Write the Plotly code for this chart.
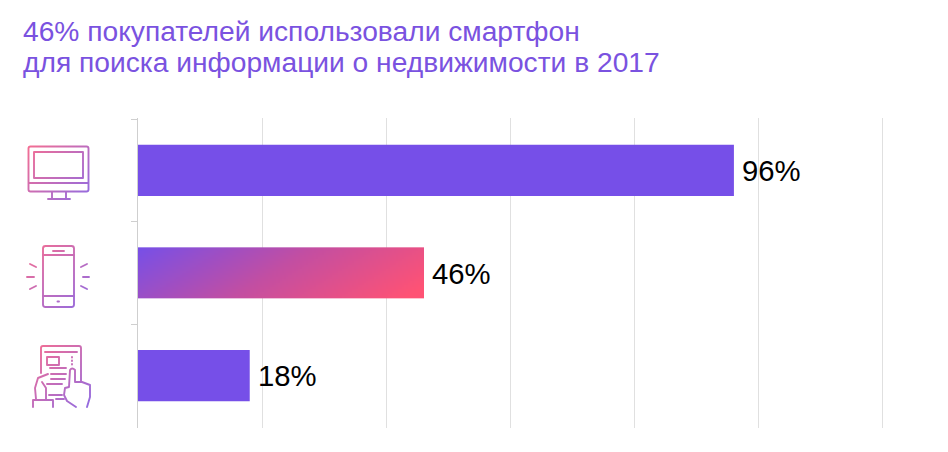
import base64
import numpy as np
import plotly.graph_objects as go

# Данные
positions = [0, 1, 2]
values = [96, 46, 18]
labels = ['96%', '46%', '18%']
bar_colors = ['#764FE8', 'rgba(0,0,0,0)', '#764FE8']
tick_values = [0, 20, 40, 60, 80, 100, 120]
title_lines = ['46% покупателей использовали смартфон', 'для поиска информации о недвижимости в 2017']
title_y_px = [31, 62]

# Страница добавляет отступ 8px слева и сверху
PAGE = 8
W, H = 948 - PAGE, 452 - PAGE
LEFT, RIGHT, TOP, BOTTOM = 138 - PAGE, 886 - PAGE, 118 - PAGE, 428 - PAGE
X_MAX = 120.5  # чуть больше 120, иначе последняя линия сетки пропадает
BAR_WIDTH = 0.5

# Градиент для средней полосы (по диагонали, в пикселях)
gx = np.linspace(0, values[1], 144)
gy = np.linspace(positions[1] - BAR_WIDTH / 2, positions[1] + BAR_WIDTH / 2, 27)
px_per_x = (RIGHT - LEFT) / X_MAX
px_per_y = (BOTTOM - TOP) / 3.02
xc = (gx[:-1] + gx[1:]) / 2 * px_per_x
yc = (gy[:-1] + gy[1:] - 2 * gy[0]) / 2 * px_per_y
gz = (xc[None, :] + 1.6 * yc[:, None]) / (values[1] * px_per_x + 1.6 * BAR_WIDTH * px_per_y)
gz = np.clip(gz / 0.95, 0, 1)

fig = go.Figure()
fig.add_trace(go.Heatmap(
    x=gx, y=gy, z=gz, zmin=0, zmax=1, showscale=False, hoverinfo='skip',
    colorscale=[[0, '#764FE8'], [0.5, '#C24EA2'], [1, '#FF5274']],
))
fig.add_trace(go.Bar(
    x=values, y=positions, orientation='h', width=BAR_WIDTH,
    marker=dict(color=bar_colors, line=dict(width=0)),
))

for v, p, t in zip(values, positions, labels):
    fig.add_annotation(x=v, y=p, text=t, showarrow=False, xanchor='left', xshift=6, yshift=0,
                       font=dict(family='Liberation Sans', size=29.3, color='#000000'))

# Заголовок в две строки
for line, ypx in zip(title_lines, title_y_px):
    fig.add_annotation(xref='paper', yref='paper', text=line, showarrow=False,
                       x=(23 - PAGE - LEFT) / (RIGHT - LEFT), y=(BOTTOM - (ypx - PAGE)) / (BOTTOM - TOP),
                       xanchor='left', yanchor='middle', xshift=-2,
                       font=dict(family='Liberation Sans', size=28.2, color='#7A52E0'))


# Иконки как SVG (координаты в пикселях картинки)
def icon(body, x0, y0, x1, y1):
    w, h = x1 - x0, y1 - y0
    svg = (f'<svg xmlns="http://www.w3.org/2000/svg" width="{w * 3}" height="{h * 3}" viewBox="{x0} {y0} {w} {h}">'
           f'<defs><linearGradient id="g" gradientUnits="userSpaceOnUse" x1="{x0}" y1="{y0}" x2="{x1}" y2="{y1}">'
           '<stop offset="0.05" stop-color="#F4557F"/><stop offset="0.95" stop-color="#7B52E0"/></linearGradient></defs>'
           f'<g fill="none" stroke="url(#g)" stroke-width="1.9" stroke-linecap="round" stroke-linejoin="round">{body}</g></svg>')
    src = 'data:image/svg+xml;base64,' + base64.b64encode(svg.encode()).decode()
    fig.add_layout_image(source=src, xref='paper', yref='paper', layer='above', opacity=0.85,
                         x=(x0 - PAGE - LEFT) / (RIGHT - LEFT), y=(BOTTOM - (y0 - PAGE)) / (BOTTOM - TOP),
                         sizex=w / (RIGHT - LEFT), sizey=h / (BOTTOM - TOP),
                         xanchor='left', yanchor='top', sizing='stretch')


monitor = ('<rect x="28.5" y="146.5" width="60" height="45" rx="2"/>'
           '<rect x="34" y="152" width="49" height="26"/>'
           '<path d="M29 183H88M52 192V198M66 192V198M48 199H70"/>')
phone = ('<rect x="43" y="246" width="31" height="61" rx="2.5"/>'
         '<path d="M43 255H74M43 296H74M53 251H64M57.5 301.5H59"/>'
         '<path d="M30 264L36 267M27 277H34M30 289L36 286M81 267L87 264M83 277H89M81 286L87 289"/>')
reader = ('<path d="M41 373V348Q41 346 43 346H79Q81 346 81 348V382"/>'
          '<path d="M45 352H77M72 357V357.5M72 360.5V361M72 364V364.5"/>'
          '<rect x="47" y="357" width="12" height="8"/>'
          '<path d="M50 368H66M51 374H66M51 379H65M47 384H62M49 395H62M56 399H64"/>'
          '<path d="M33 407V400H53V407M36 399L35 388L38 378L48 374M42 382L46 388V399"/>'
          '<path d="M69 387L70 370Q72 367 75 370V382L82 382L90 385V397L87 407M69 387L65 388L64 395L67 401L76 407"/>')
icon(monitor, 24, 142, 94, 204)
icon(phone, 24, 242, 94, 312)
icon(reader, 28, 342, 96, 412)

fig.update_layout(
    width=W, height=H,
    margin=dict(l=LEFT, r=W - RIGHT, t=TOP, b=H - BOTTOM),
    paper_bgcolor='white', plot_bgcolor='white',
    showlegend=False,
    font=dict(family='Liberation Sans'),
)
fig.update_xaxes(range=[0, X_MAX], tickvals=tick_values, showticklabels=False, showgrid=True,
                 gridcolor='#E0E0E0', gridwidth=1, zeroline=False, showline=False, ticks='')
fig.update_yaxes(range=[2.51, -0.51], tickvals=[-0.5, 0.5, 1.5], showticklabels=False, showgrid=False,
                 zeroline=False, showline=True, linecolor='#CFCFCF', linewidth=1,
                 ticks='outside', ticklen=6, tickcolor='#CFCFCF', tickwidth=1)

fig.write_html('out.html')
